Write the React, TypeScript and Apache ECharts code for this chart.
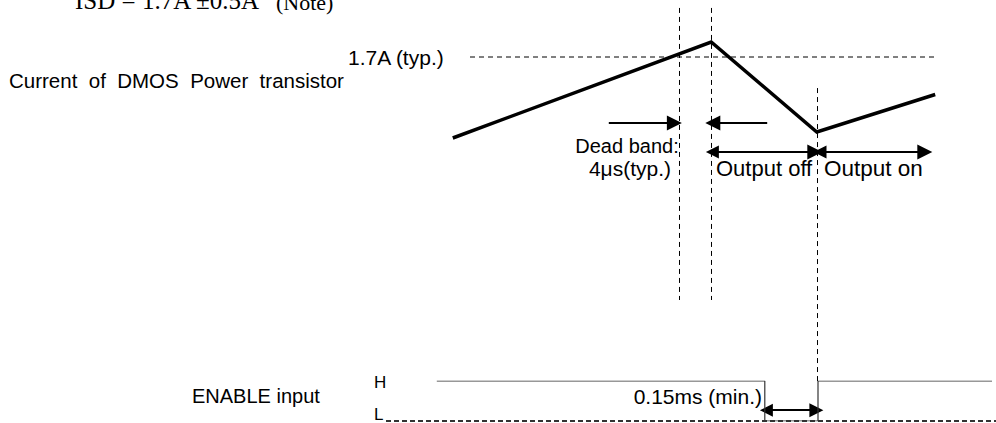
import React, { useEffect, useRef } from "react";
import * as echarts from "echarts";

// Time axis in microseconds (schematic), current in amperes
const CURRENT_T = [9.1, 41.4, 54.6, 69.4];
const CURRENT_A = [1.16, 1.8, 1.2, 1.45];
const LIMIT_A = 1.7;
const LIMIT_SPAN_T = [11.25, 69.4];

// Vertical reference markers: dead-band start, current peak, current trough
const MARKER_T = [37.4, 41.4, 54.6];
const MARKER_TOP_A = [2.027, 2.027, 1.493];
const MARKER_BOTTOM_A = [0.08, 0.08, -0.46];

// ENABLE input (1 = H, 0 = L)
const ENABLE_T = [7.1, 48.1, 48.1, 54.75, 54.75, 76.5];
const ENABLE_LEVEL = [1, 1, 0, 0, 1, 1];
const L_SPAN_T = [0.75, 77];

// Arrows: [fromT, toT, level]
const DEAD_BAND_ARROWS: [number, number, number][] = [
  [28.6, 36.8, 1.26],
  [48.4, 41.6, 1.26],
];
const OUTPUT_ARROWS: [number, number, number][] = [
  [41.55, 54.35, 1.067],
  [55.0, 68.1, 1.067],
];
const ENABLE_ARROW: [number, number, number] = [48.3, 54.55, 0.27];

const SANS = "'Liberation Sans', Arial, sans-serif";
const SERIF = "'Liberation Serif', 'Times New Roman', serif";

export default function App() {
  const ref = useRef<HTMLDivElement>(null);
  useEffect(() => {
    if (!ref.current) return;
    const chart = echarts.init(ref.current, undefined, { renderer: "svg" });

    const txt = (
      text: string,
      x: number,
      y: number,
      align: string = "left",
      size = 20,
      family = SANS,
      vAlign = "middle"
    ) => ({
      type: "text",
      x,
      y,
      silent: true,
      style: {
        text,
        fill: "#000",
        fontSize: size,
        fontFamily: family,
        align,
        verticalAlign: vAlign,
      },
    });

    const arrowLine = (from: number, to: number, lvl: number, both: boolean) => ({
      coords: [
        [from, lvl],
        [to, lvl],
      ],
      symbol: both ? ["triangle", "triangle"] : ["none", "triangle"],
    });

    chart.setOption({
      animation: false,
      backgroundColor: "#fff",
      grid: [
        { left: 380, right: 0, top: 0, bottom: 0 },
        { left: 380, right: 0, top: 381, height: 40 },
      ],
      xAxis: [
        { type: "value", gridIndex: 0, min: 0, max: 77, show: false },
        { type: "value", gridIndex: 1, min: 0, max: 77, show: false },
      ],
      yAxis: [
        { type: "value", gridIndex: 0, min: -0.74, max: 2.08, show: false },
        { type: "value", gridIndex: 1, min: 0, max: 1, show: false },
      ],
      series: [
        {
          type: "line",
          xAxisIndex: 0,
          yAxisIndex: 0,
          data: LIMIT_SPAN_T.map((t) => [t, LIMIT_A]),
          symbol: "none",
          lineStyle: { color: "#000", width: 1, type: [5, 4] },
          silent: true,
        },
        {
          type: "lines",
          coordinateSystem: "cartesian2d",
          xAxisIndex: 0,
          yAxisIndex: 0,
          clip: false,
          silent: true,
          lineStyle: { color: "#000", width: 1, type: [5, 4], opacity: 1 },
          data: MARKER_T.map((t, i) => ({
            coords: [
              [t, MARKER_TOP_A[i]],
              [t, MARKER_BOTTOM_A[i]],
            ],
          })),
        },
        {
          type: "line",
          xAxisIndex: 0,
          yAxisIndex: 0,
          data: CURRENT_T.map((t, i) => [t, CURRENT_A[i]]),
          symbol: "none",
          lineStyle: { color: "#000", width: 3.5, join: "miter" },
          silent: true,
        },
        {
          type: "lines",
          coordinateSystem: "cartesian2d",
          xAxisIndex: 0,
          yAxisIndex: 0,
          clip: false,
          silent: true,
          symbolSize: [13, 15],
          lineStyle: { color: "#000", width: 2.2, opacity: 1 },
          data: [
            ...DEAD_BAND_ARROWS.map((a) => arrowLine(a[0], a[1], a[2], false)),
            ...OUTPUT_ARROWS.map((a) => arrowLine(a[0], a[1], a[2], true)),
          ],
        },
        {
          type: "line",
          xAxisIndex: 1,
          yAxisIndex: 1,
          data: L_SPAN_T.map((t) => [t, 0]),
          symbol: "none",
          lineStyle: { color: "#333", width: 2, type: [5, 3] },
          silent: true,
        },
        {
          type: "line",
          xAxisIndex: 1,
          yAxisIndex: 1,
          data: ENABLE_T.map((t, i) => [t, ENABLE_LEVEL[i]]),
          symbol: "none",
          lineStyle: { color: "#333", width: 1.2 },
          silent: true,
        },
        {
          type: "lines",
          coordinateSystem: "cartesian2d",
          xAxisIndex: 1,
          yAxisIndex: 1,
          clip: false,
          silent: true,
          symbolSize: [13, 14],
          lineStyle: { color: "#000", width: 2.2, opacity: 1 },
          data: [arrowLine(ENABLE_ARROW[0], ENABLE_ARROW[1], ENABLE_ARROW[2], true)],
        },
      ],
      graphic: [
        txt("ISD = 1.7A ±0.5A", 75, 13, "left", 25, SERIF, "bottom"),
        txt("(Note)", 276, 13, "left", 22, SERIF, "bottom"),
        txt("1.7A (typ.)", 348, 57, "left", 21),
        txt("Current  of  DMOS  Power  transistor", 9, 80, "left", 20.5),
        txt("Dead band:", 627, 146, "center", 20),
        txt("4μs(typ.)", 630, 168, "center", 21),
        txt("Output off", 716, 168, "left", 22),
        txt("Output on", 824, 168, "left", 22.5),
        txt("H", 374, 382, "left", 17),
        txt("L", 374, 414, "left", 17),
        txt("ENABLE input", 192, 396, "left", 20),
        txt("0.15ms (min.)", 762, 396, "right", 21),
      ],
    });
    return () => chart.dispose();
  }, []);
  return (
    <div
      ref={ref}
      style={{
        position: "fixed",
        left: 0,
        top: 0,
        width: 996,
        height: 423,
        overflow: "hidden",
        background: "#fff",
      }}
    />
  );
}
